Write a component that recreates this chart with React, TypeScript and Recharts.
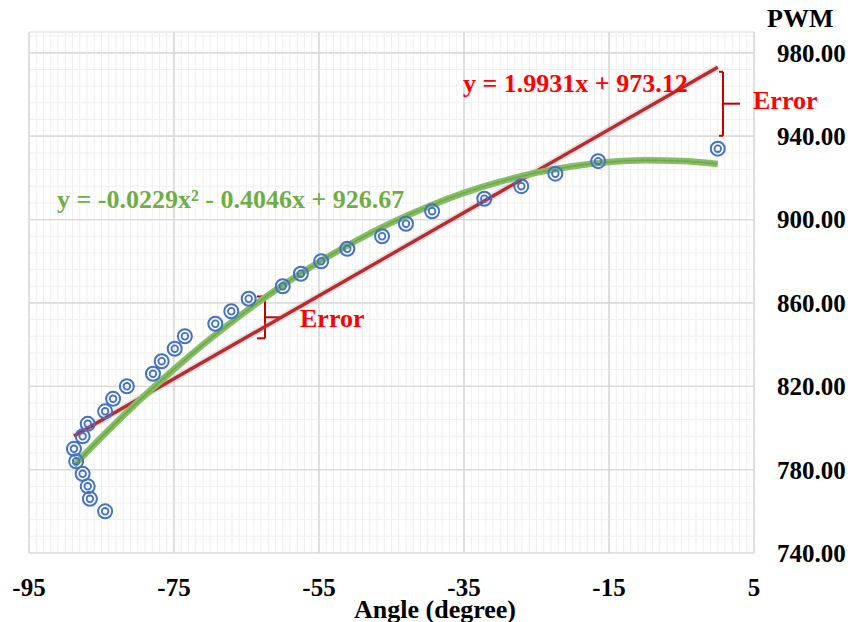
import React from 'react'
import {
  ComposedChart, Scatter, Line, XAxis, YAxis, CartesianGrid, ReferenceLine,
} from 'recharts'

// measured points (angle in degree, PWM)
const angles = [
  -84.5, -86.6, -86.9, -87.6, -88.5, -88.8, -87.6, -86.9, -84.5, -83.4,
  -81.5, -77.9, -76.7, -74.9, -73.5, -69.3, -67.1, -64.7, -60.0, -57.5,
  -54.7, -51.1, -46.3, -43.0, -39.4, -32.2, -27.1, -22.4, -16.5, 0.0,
]
const pwm = [
  760, 766, 772, 778, 784, 790, 796, 802, 808, 814,
  820, 826, 832, 838, 844, 850, 856, 862, 868, 874,
  880, 886, 892, 898, 904, 910, 916, 922, 928, 934,
]

// polynomial trendline
const polyX = [-88.8, -85, -80, -75, -70, -65, -60, -55, -50, -45, -40, -35, -30, -25, -20, -15, -10, -5, 0]
const polyY = [782.0, 795.6, 812.5, 828.2, 842.8, 856.2, 868.5, 879.6, 889.6, 898.5, 906.2, 912.8, 918.2, 922.5, 925.6, 927.6, 928.4, 928.1, 926.7]

// linear trendline end points
const linX = [-88.8, 0]
const linY = [796.1, 973.1]

const xTicks = [-95, -75, -55, -35, -15, 5]
const yTicks = [740, 780, 820, 860, 900, 940, 980]

const points = angles.map((x, i) => ({ x, y: pwm[i] }))
const poly = polyX.map((x, i) => ({ x, y: polyY[i] }))
const lin = linX.map((x, i) => ({ x, y: linY[i] }))

const minorX = Array.from({ length: 101 }, (_, i) => -95 + i).filter((v) => (v + 95) % 20 !== 0)
const minorY = Array.from({ length: 32 }, (_, i) => 740 + i * 8).filter((v) => v <= 990 && (v - 740) % 40 !== 0)

const FONT = '"Liberation Serif", "Times New Roman", serif'
const BRACKET = '#c00000'

// "Error" brackets, in data units
const brackets = [
  { x: 0.72, arm: 0.17, tick: 3.07, top: 970.9, bottom: 940.2, mid: 955.6 },
  { x: -62.45, arm: -63.55, tick: -59.97, top: 863.1, bottom: 843.0, mid: 853.1 },
]

function Ring({ cx, cy }: any) {
  if (cx == null || cy == null) return null
  return (
    <g>
      <circle cx={cx} cy={cy} r={7} fill="none" stroke="#4472c4" strokeWidth={2} />
      <circle cx={cx} cy={cy} r={3.3} fill="none" stroke="#4472c4" strokeWidth={1.8} />
    </g>
  )
}

export default function App() {
  const tickStyle = { fontFamily: FONT, fontSize: 25, fontWeight: 700, fill: '#000' }
  return (
    <div style={{ position: 'absolute', left: 0, top: 0, width: 851, height: 622, background: '#fff' }}>
      <ComposedChart
        width={851}
        height={622}
        margin={{ top: 32, left: 29, right: 0, bottom: 0 }}
      >
        <CartesianGrid stroke="#d9d9d9" strokeWidth={1.2} />
        {minorX.map((v) => (
          <ReferenceLine key={'mx' + v} x={v} stroke="#efefef" strokeWidth={1} />
        ))}
        {minorY.map((v) => (
          <ReferenceLine key={'my' + v} y={v} stroke="#efefef" strokeWidth={1} />
        ))}
        {xTicks.map((v) => (
          <ReferenceLine key={'gx' + v} x={v} stroke="#d9d9d9" strokeWidth={1.2} />
        ))}
        {yTicks.map((v) => (
          <ReferenceLine key={'gy' + v} y={v} stroke="#d9d9d9" strokeWidth={1.2} />
        ))}
        <XAxis
          type="number"
          dataKey="x"
          domain={[-95, 5]}
          ticks={xTicks}
          height={69}
          axisLine={false}
          tickLine={false}
          tickSize={0}
          tickMargin={25}
          tick={tickStyle}
          allowDataOverflow
        />
        <YAxis
          type="number"
          dataKey="y"
          orientation="right"
          domain={[740, 990]}
          ticks={yTicks}
          width={97}
          axisLine={false}
          tickLine={false}
          tickSize={0}
          tickMargin={23}
          tick={tickStyle}
          tickFormatter={(v: number) => v.toFixed(2)}
          allowDataOverflow
        />
        {brackets.map((b, i) => (
          <ReferenceLine key={'bv' + i} segment={[{ x: b.x, y: b.top }, { x: b.x, y: b.bottom }]} stroke={BRACKET} strokeWidth={2} />
        ))}
        {brackets.map((b, i) => (
          <ReferenceLine key={'bt' + i} segment={[{ x: b.arm, y: b.top }, { x: b.x, y: b.top }]} stroke={BRACKET} strokeWidth={2} />
        ))}
        {brackets.map((b, i) => (
          <ReferenceLine key={'bb' + i} segment={[{ x: b.arm, y: b.bottom }, { x: b.x, y: b.bottom }]} stroke={BRACKET} strokeWidth={2} />
        ))}
        {brackets.map((b, i) => (
          <ReferenceLine key={'bm' + i} segment={[{ x: b.x, y: b.mid }, { x: b.tick, y: b.mid }]} stroke={BRACKET} strokeWidth={2} />
        ))}
        <Line data={lin} dataKey="y" type="linear" stroke="#999" strokeOpacity={0.25} strokeWidth={7} dot={false} isAnimationActive={false} />
        <Line data={lin} dataKey="y" type="linear" stroke="#c0282d" strokeWidth={3.4} dot={false} isAnimationActive={false} />
        <Line data={poly} dataKey="y" type="monotone" stroke="#86bd62" strokeWidth={6.5} dot={false} isAnimationActive={false} />
        <Line data={poly} dataKey="y" type="monotone" stroke="#6aa84f" strokeWidth={1.5} dot={false} isAnimationActive={false} />
        <Scatter data={points} dataKey="y" shape={<Ring />} isAnimationActive={false} />
      </ComposedChart>
      <svg
        width={851}
        height={622}
        style={{ position: 'absolute', left: 0, top: 0, pointerEvents: 'none' }}
        fontFamily={FONT}
        fontWeight={700}
      >
        <text x={767} y={18} fontSize={26} fill="#000" dominantBaseline="central">PWM</text>
        <text x={435} y={609} fontSize={26} fill="#000" textAnchor="middle" dominantBaseline="central">Angle (degree)</text>
        <text x={57} y={199} fontSize={26} fill="#70ad47" dominantBaseline="central">y = -0.0229x² - 0.4046x + 926.67</text>
        <text x={463} y={83} fontSize={26} fill="#ff0000" dominantBaseline="central">y = 1.9931x + 973.12</text>
        <text x={753} y={100} fontSize={26} fill="#ff0000" dominantBaseline="central">Error</text>
        <text x={300} y={318} fontSize={26} fill="#ff0000" dominantBaseline="central">Error</text>
      </svg>
    </div>
  )
}
